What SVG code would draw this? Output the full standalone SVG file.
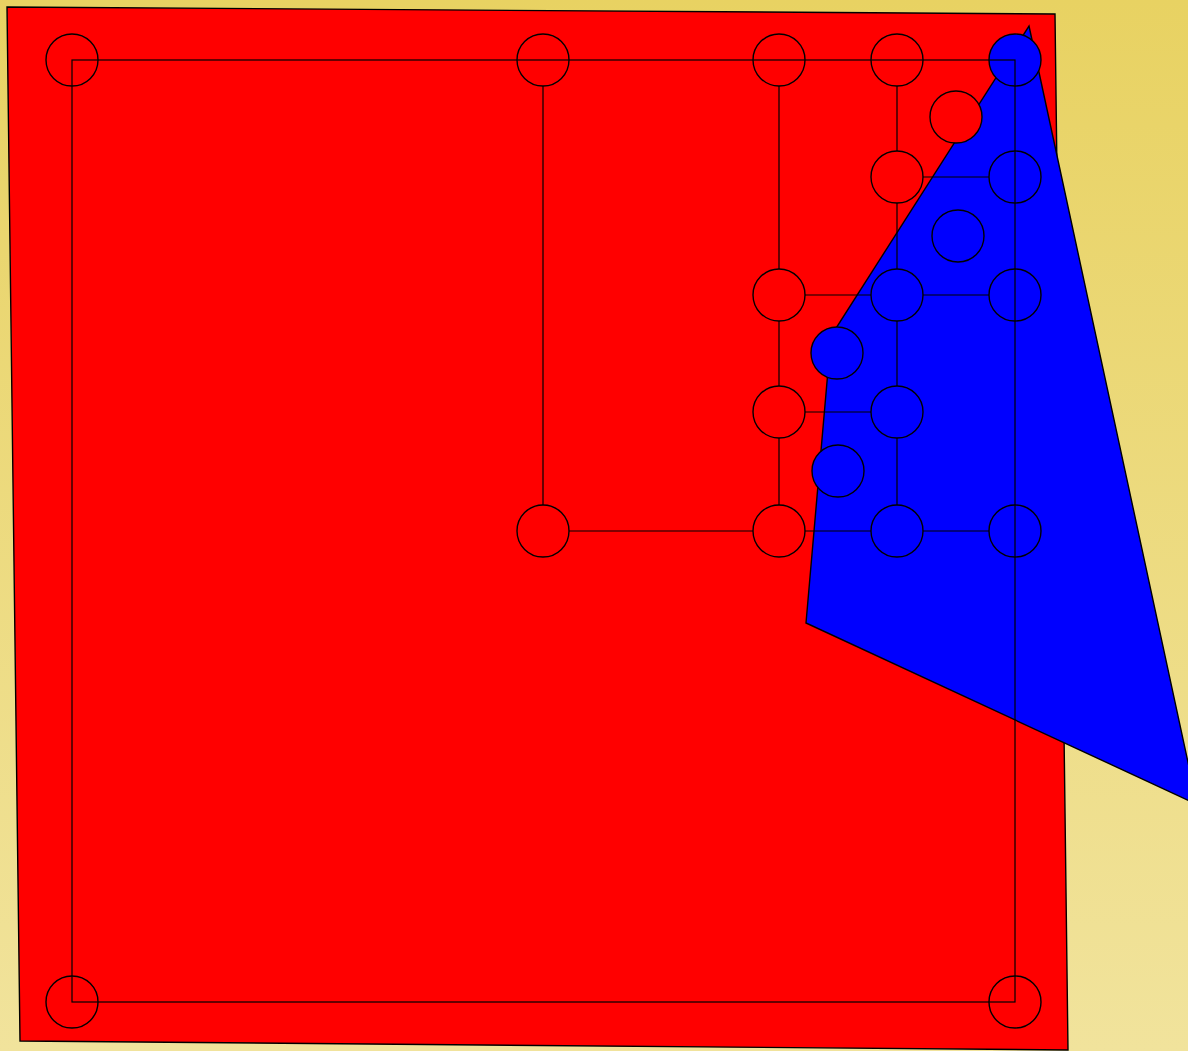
<svg xmlns="http://www.w3.org/2000/svg" width="1188" height="1051" viewBox="0 0 1188 1051">
<defs>
<linearGradient id="bg" x1="0" y1="0" x2="0" y2="1">
<stop offset="0" stop-color="#E8D262"/>
<stop offset="1" stop-color="#F1E39C"/>
</linearGradient>
<style>
.ln{stroke:#000;stroke-width:1.2;fill:none}
.pt{stroke:#000;stroke-width:1.4;fill:none}
.blue{fill:#0000FF;stroke:#000;stroke-width:1.4}
.red{fill:#FF0000;stroke:#000;stroke-width:1.4}
</style>
</defs>
<rect x="0" y="0" width="1188" height="1051" fill="url(#bg)"/>
<polygon id="board" points="7,7 1055,14 1068,1050 20,1041" fill="#FF0000" stroke="#000" stroke-width="1.4"/>
<polygon id="shard" points="1029,26 1194,790 1194,803 806,623 831,336" fill="#0000FF" stroke="#000" stroke-width="1.4"/>
<g id="pieces">
<circle class="blue" cx="1015" cy="60" r="26"/>
<circle class="red" cx="956" cy="117" r="26"/>
<circle class="blue" cx="958" cy="236" r="26"/>
<circle class="blue" cx="837" cy="353" r="26"/>
<circle class="blue" cx="838" cy="471" r="26"/>
</g>
<g id="connectors">
<rect class="ln" x="72" y="60" width="943" height="942"/>
<line class="ln" x1="543" y1="86" x2="543" y2="505"/>
<line class="ln" x1="779" y1="86" x2="779" y2="269"/>
<line class="ln" x1="779" y1="321" x2="779" y2="386"/>
<line class="ln" x1="779" y1="438" x2="779" y2="505"/>
<line class="ln" x1="897" y1="86" x2="897" y2="151"/>
<line class="ln" x1="897" y1="203" x2="897" y2="269"/>
<line class="ln" x1="897" y1="321" x2="897" y2="386"/>
<line class="ln" x1="897" y1="438" x2="897" y2="505"/>
<line class="ln" x1="923" y1="177" x2="989" y2="177"/>
<line class="ln" x1="805" y1="295" x2="871" y2="295"/>
<line class="ln" x1="923" y1="295" x2="989" y2="295"/>
<line class="ln" x1="805" y1="412" x2="871" y2="412"/>
<line class="ln" x1="569" y1="531" x2="753" y2="531"/>
<line class="ln" x1="805" y1="531" x2="871" y2="531"/>
<line class="ln" x1="923" y1="531" x2="989" y2="531"/>
</g>
<g id="points">
<circle id="p1" class="pt" cx="72" cy="60" r="26"/>
<circle id="p2" class="pt" cx="543" cy="60" r="26"/>
<circle id="p3" class="pt" cx="779" cy="60" r="26"/>
<circle id="p4" class="pt" cx="897" cy="60" r="26"/>
<circle id="p5" class="pt" cx="897" cy="177" r="26"/>
<circle id="p6" class="pt" cx="1015" cy="177" r="26"/>
<circle id="p7" class="pt" cx="779" cy="295" r="26"/>
<circle id="p8" class="pt" cx="897" cy="295" r="26"/>
<circle id="p9" class="pt" cx="1015" cy="295" r="26"/>
<circle id="p10" class="pt" cx="779" cy="412" r="26"/>
<circle id="p11" class="pt" cx="897" cy="412" r="26"/>
<circle id="p12" class="pt" cx="543" cy="531" r="26"/>
<circle id="p13" class="pt" cx="779" cy="531" r="26"/>
<circle id="p14" class="pt" cx="897" cy="531" r="26"/>
<circle id="p15" class="pt" cx="1015" cy="531" r="26"/>
<circle id="p16" class="pt" cx="72" cy="1002" r="26"/>
<circle id="p17" class="pt" cx="1015" cy="1002" r="26"/>
</g>
</svg>
